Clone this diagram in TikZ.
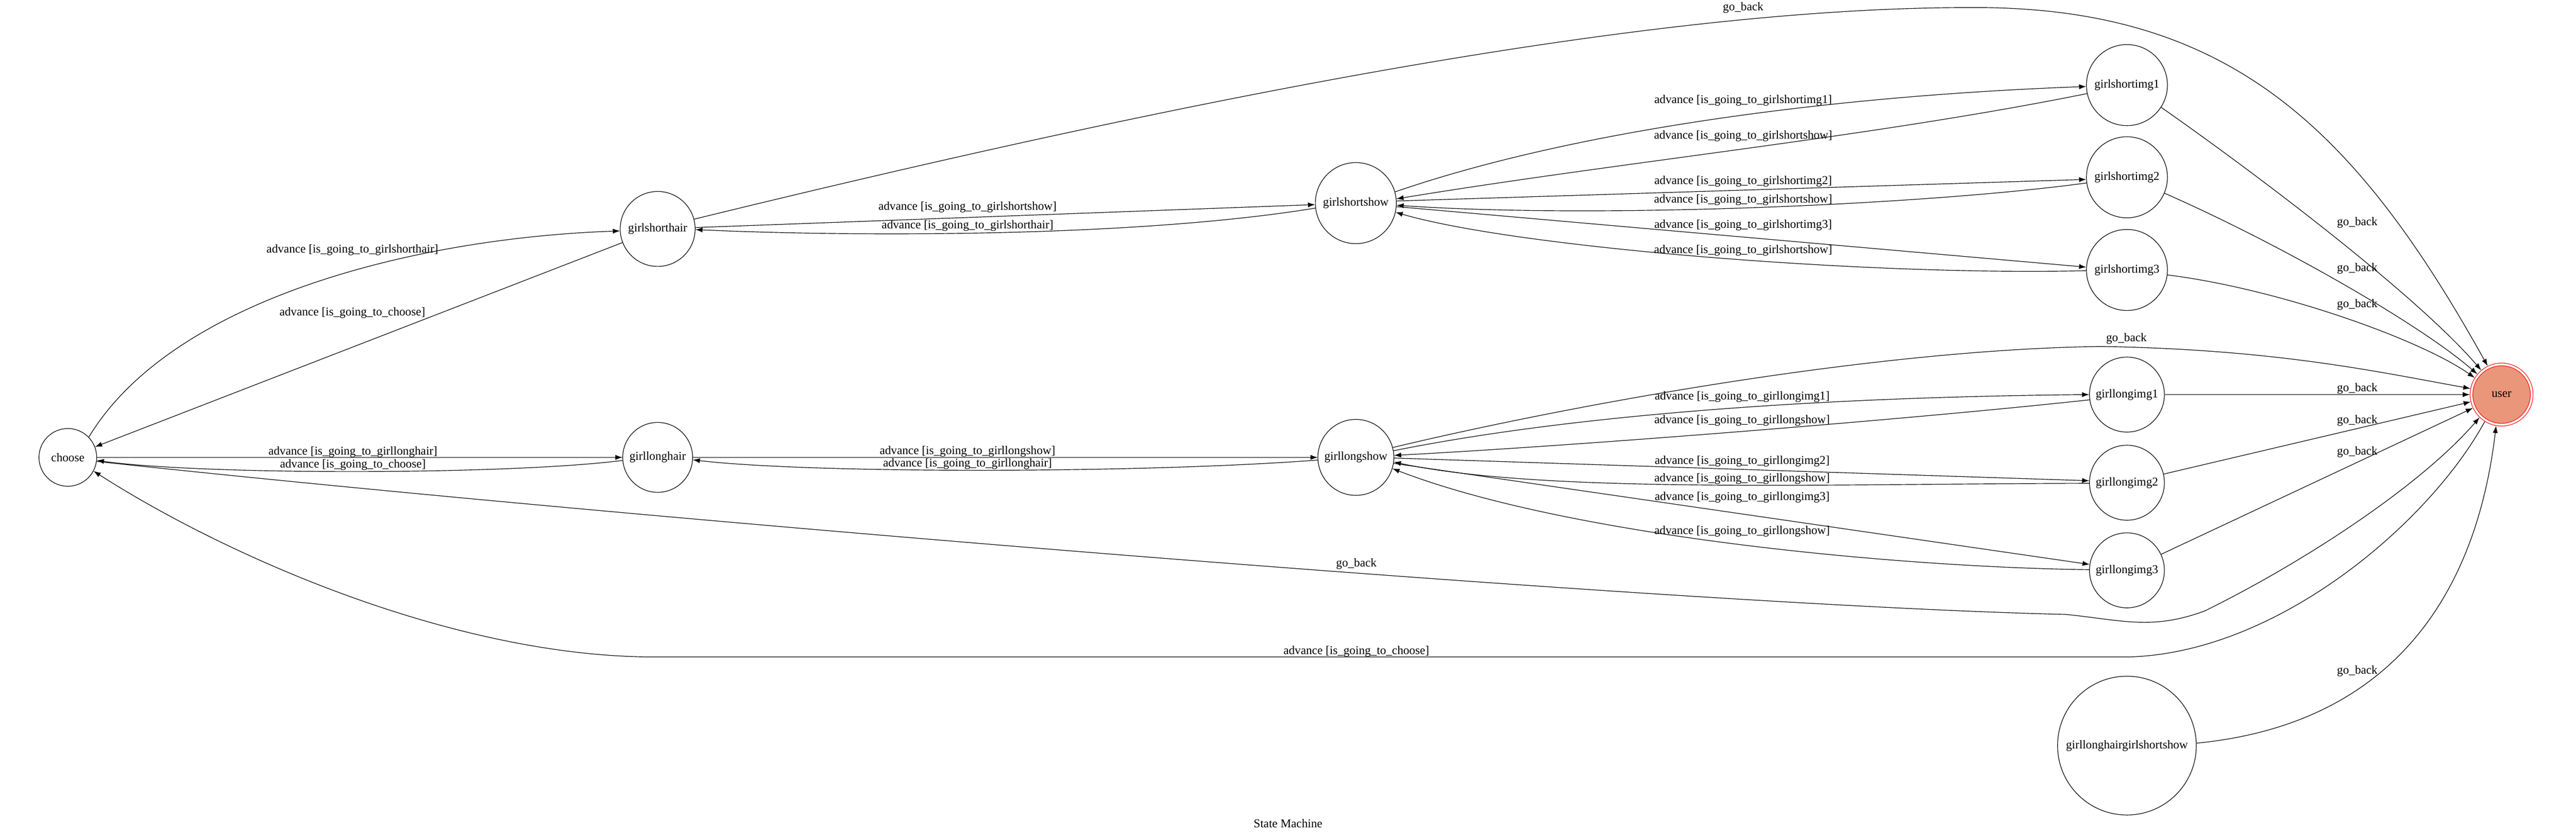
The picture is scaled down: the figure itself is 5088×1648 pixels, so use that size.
\documentclass[tikz,border=0pt]{standalone}
\usepackage{fontspec}
\setmainfont{Liberation Serif}
\usetikzlibrary{arrows.meta}
\definecolor{usersalmon}{HTML}{E9967A}
\tikzset{>={Latex[length=7pt,width=5pt]}}
\tikzset{
  state/.style = {circle,draw,inner sep=0pt,line width=0.6pt},
  final/.style = {state,draw=red,fill=usersalmon,double=white,
    double distance=2pt,outer sep=1.6pt},
  lbl/.style = {inner sep=0pt},
  edge/.style = {->,line width=0.6pt}
}

\begin{document}
\begin{tikzpicture}[x=0.5pt,y=-0.5pt,font=\fontsize{11.8}{14}\selectfont]
  \useasboundingbox (0,0) rectangle (5088,1648);
  % states
  \node[state,minimum size=57pt]  (choose) at (134,903)  {choose};
  \node[state,minimum size=74pt]  (gsh)    at (1299,452) {girlshorthair};
  \node[state,minimum size=69pt]  (glh)    at (1299,903) {girllonghair};
  \node[state,minimum size=80pt]  (gss)    at (2678,401) {girlshortshow};
  \node[state,minimum size=75pt]  (gls)    at (2678,903) {girllongshow};
  \node[state,minimum size=80pt]  (gsi1)   at (4201,168) {girlshortimg1};
  \node[state,minimum size=80pt]  (gsi2)   at (4201,350) {girlshortimg2};
  \node[state,minimum size=80pt]  (gsi3)   at (4201,533) {girlshortimg3};
  \node[state,minimum size=74pt]  (gli1)   at (4201,779) {girllongimg1};
  \node[state,minimum size=74pt]  (gli2)   at (4201,953) {girllongimg2};
  \node[state,minimum size=74pt]  (gli3)   at (4201,1126) {girllongimg3};
  \node[state,minimum size=137pt] (glgs)   at (4201,1472) {girllonghairgirlshortshow};
  \node[final,minimum size=59.5pt] (user)  at (4941,779) {user};
  \node[lbl] (title) at (2544,1626) {State Machine};
  % choose <-> hair
  \draw[edge] (choose.44) .. controls (340,590) and (820,470) .. (gsh.183)
    node[lbl] at (696,493) {advance [is\_going\_to\_girlshorthair]};
  \draw[edge] (gsh) -- (choose)
    node[lbl] at (696,618) {advance [is\_going\_to\_choose]};
  \draw[edge] (choose) -- (glh)
    node[lbl] at (697,892) {advance [is\_going\_to\_girllonghair]};
  \draw[edge] (glh.185) .. controls (1000,938) and (400,938) .. (choose.-6)
    node[lbl] at (697,918) {advance [is\_going\_to\_choose]};
  % hair <-> show
  \draw[edge] (gsh) -- (gss)
    node[lbl] at (1911,409) {advance [is\_going\_to\_girlshortshow]};
  \draw[edge] (gss.187) .. controls (2250,468) and (1700,468) .. (gsh.-1)
    node[lbl] at (1911,446) {advance [is\_going\_to\_girlshorthair]};
  \draw[edge] (glh) -- (gls)
    node[lbl] at (1911,891) {advance [is\_going\_to\_girllongshow]};
  \draw[edge] (gls.184) .. controls (2250,935) and (1600,935) .. (glh.-4)
    node[lbl] at (1911,916) {advance [is\_going\_to\_girllonghair]};
  % girlshortshow <-> images
  \draw[edge] (gss.16) .. controls (3100,260) and (3600,190) .. (gsi1.182)
    node[lbl] at (3443,198) {advance [is\_going\_to\_girlshortimg1]};
  \draw[edge] (gsi1.192) .. controls (3700,270) and (3200,320) .. (gss.6)
    node[lbl] at (3443,269) {advance [is\_going\_to\_girlshortshow]};
  \draw[edge] (gss.3) -- (gsi2.183)
    node[lbl] at (3443,358) {advance [is\_going\_to\_girlshortimg2]};
  \draw[edge] (gsi2.188) .. controls (3800,405) and (3150,432) .. (gss.-3)
    node[lbl] at (3443,395) {advance [is\_going\_to\_girlshortshow]};
  \draw[edge] (gss.-5) -- (gsi3.176)
    node[lbl] at (3443,445) {advance [is\_going\_to\_girlshortimg3]};
  \draw[edge] (gsi3.181) .. controls (3700,545) and (3000,490) .. (gss.-13)
    node[lbl] at (3443,495) {advance [is\_going\_to\_girlshortshow]};
  % girllongshow <-> images
  \draw[edge] (gls.10) .. controls (3050,830) and (3500,785) .. (gli1.180)
    node[lbl] at (3441,784) {advance [is\_going\_to\_girllongimg1]};
  \draw[edge] (gli1.188) .. controls (3800,825) and (3150,878) .. (gls.3)
    node[lbl] at (3441,830) {advance [is\_going\_to\_girllongshow]};
  \draw[edge] (gls.-1) -- (gli2.177)
    node[lbl] at (3441,911) {advance [is\_going\_to\_girllongimg2]};
  \draw[edge] (gli2.181) .. controls (3600,955) and (3050,975) .. (gls.-7)
    node[lbl] at (3441,945) {advance [is\_going\_to\_girllongshow]};
  \draw[edge] (gls.-9) -- (gli3.171)
    node[lbl] at (3441,982) {advance [is\_going\_to\_girllongimg3]};
  \draw[edge] (gli3.179) .. controls (3750,1120) and (3100,1060) .. (gls.-17)
    node[lbl] at (3441,1049) {advance [is\_going\_to\_girllongshow]};
  % go_back
  \draw[edge] (gsh.15) .. controls (2200,230) and (3200,15) .. (3886,15)
    .. controls (4400,10) and (4650,250) .. (user.116)
    node[lbl] at (3443,15) {go\_back};
  \draw[edge] (gsi1.-33) .. controls (4480,360) and (4780,590) .. (user.130)
    node[lbl] at (4656,440) {go\_back};
  \draw[edge] (gsi2.-23) .. controls (4500,480) and (4780,640) .. (user.140)
    node[lbl] at (4656,530) {go\_back};
  \draw[edge] (gsi3.-7) .. controls (4500,570) and (4780,670) .. (user.148)
    node[lbl] at (4656,601) {go\_back};
  \draw[edge] (gls.15) .. controls (3100,800) and (3700,690) .. (4150,684)
    .. controls (4500,690) and (4700,735) .. (user.169)
    node[lbl] at (4200,669) {go\_back};
  \draw[edge] (gli1) -- (user)
    node[lbl] at (4656,767) {go\_back};
  \draw[edge] (gli2) -- (user)
    node[lbl] at (4656,830) {go\_back};
  \draw[edge] (gli3) -- (user)
    node[lbl] at (4656,892) {go\_back};
  \draw[edge] (choose.-8) .. controls (1200,1020) and (3300,1195) .. (4080,1213)
    .. controls (4190,1224) and (4250,1245) .. (4355,1206)
    .. controls (4550,1110) and (4780,960) .. (user.226)
    node[lbl] at (2679,1113) {go\_back};
  \draw[edge] (glgs.2) .. controls (4720,1430) and (4890,1180) .. (user.260)
    node[lbl] at (4656,1325) {go\_back};
  % back to choose
  \draw[edge] (user.238) .. controls (4800,1030) and (4500,1290) .. (4203,1297)
    -- (1293,1297) .. controls (900,1297) and (450,1100) .. (choose.-28)
    node[lbl] at (2679,1286) {advance [is\_going\_to\_choose]};
\end{tikzpicture}
\end{document}
